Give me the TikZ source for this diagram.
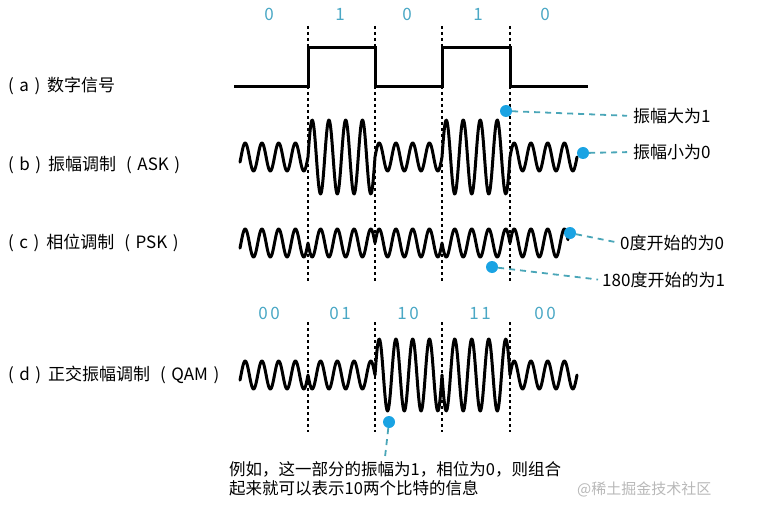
\documentclass[tikz,border=0pt]{standalone}
\usepackage{fontspec}
\setmainfont{Noto Sans CJK SC}
\definecolor{bitc}{HTML}{4BA8C5}
\definecolor{leadc}{HTML}{4AA6B8}
\definecolor{dotc}{HTML}{1AA3E3}
\newcommand\myL{(\hspace{5.5pt}}
\newcommand\myR{\hspace{5.5pt})}
\begin{document}
\begin{tikzpicture}[x=1pt,y=-1pt,
  sig/.style={line width=3pt, line join=miter},
  wave/.style={line width=3pt, line join=round, line cap=round},
  gridln/.style={line width=1.1pt, dash pattern=on 3pt off 3pt},
  lbl/.style={font=\fontsize{17}{20}\selectfont, inner sep=0pt, anchor=west},
  note/.style={font=\fontsize{16.5}{19.5}\selectfont, inner sep=0pt},
  bit/.style={font=\fontsize{17}{20}\selectfont, text=bitc, inner sep=0pt},
  dot/.style={circle, fill=dotc, minimum size=12pt, inner sep=0pt},
  lead/.style={draw=leadc, line width=1.8pt, dash pattern=on 6pt off 5pt},
]
\useasboundingbox (0,0) rectangle (767,513);

% vertical dashed grid
\foreach \x in {308,375,442,510} {
  \draw[gridln] (\x,26) -- (\x,282);
  \draw[gridln] (\x,322) -- (\x,432);
}

% top bits
\node[bit] (b1) at (269,14) {0};
\node[bit] (b2) at (340,14) {1};
\node[bit] (b3) at (407,14) {0};
\node[bit] (b4) at (478,14) {1};
\node[bit] (b5) at (545,14) {0};

% row labels
\node[lbl] (la) at (8,86) {\myL a\myR\hspace{7pt}数字信号};
\node[lbl] (lb) at (8,165) {\myL b\myR\hspace{7pt}振幅调制\hspace{10pt}\myL ASK\myR};
\node[lbl] (lc) at (8,243) {\myL c\myR\hspace{7pt}相位调制\hspace{10pt}\myL PSK\myR};
\node[lbl] (ld) at (8,375) {\myL d\myR\hspace{7pt}正交振幅调制\hspace{10pt}\myL QAM\myR};

% (a) digital signal
\draw[sig] (234,87) -- (308,87) -- (308,48) -- (375,48) -- (375,87) -- (442,87)
  -- (442,48) -- (510,48) -- (510,87) -- (588,87);

% (b) ASK
\draw[wave]
  plot[domain=240:308, samples=120, smooth] (\x, {157 - 14*sin(21.4925*(\x-308))})
  -- plot[domain=308:375, samples=120, smooth] (\x, {157 - 37*sin(21.4925*(\x-308))})
  -- plot[domain=375:442, samples=120, smooth] (\x, {157 - 14*sin(21.4925*(\x-375))})
  -- plot[domain=442:510, samples=120, smooth] (\x, {157 - 37*sin(21.1765*(\x-442))})
  -- plot[domain=510:577, samples=120, smooth] (\x, {157 - 14*sin(21.4925*(\x-510))});

% (c) PSK
\draw[wave]
  plot[domain=240:308, samples=120, smooth] (\x, {243 - 14*sin(21.4925*(\x-308))})
  -- plot[domain=308:375, samples=120, smooth] (\x, {243 + 14*sin(21.4925*(\x-308))})
  -- plot[domain=375:442, samples=120, smooth] (\x, {243 - 14*sin(21.4925*(\x-375))})
  -- plot[domain=442:510, samples=120, smooth] (\x, {243 + 14*sin(21.1765*(\x-442))})
  -- plot[domain=510:568, samples=120, smooth] (\x, {243 - 14*sin(21.4925*(\x-510))});

% (d) QAM bits
\node[bit] (q1) at (269,313) {0\hspace{2.5pt}0};
\node[bit] (q2) at (340,313) {0\hspace{2.5pt}1};
\node[bit] (q3) at (408,313) {1\hspace{2.5pt}0};
\node[bit] (q4) at (480,313) {1\hspace{2.5pt}1};
\node[bit] (q5) at (545,313) {0\hspace{2.5pt}0};

% (d) QAM
\draw[wave]
  plot[domain=240:308, samples=120, smooth] (\x, {375 - 14*sin(21.4925*(\x-308))})
  -- plot[domain=308:375, samples=120, smooth] (\x, {375 + 14*sin(21.4925*(\x-308))})
  -- plot[domain=375:442, samples=120, smooth] (\x, {375 - 36*sin(21.4925*(\x-375))})
  -- plot[domain=442:510, samples=120, smooth] (\x, {375 + 36*sin(21.1765*(\x-442))})
  -- plot[domain=510:577, samples=120, smooth] (\x, {375 - 14*sin(21.4925*(\x-510))});

% callouts
\node[dot] (d1) at (506,111) {};
\node[lbl] (t1) at (633,116) {振幅大为1};
\draw[lead, shorten >=6pt] (d1) -- (t1.west);

\node[dot] (d2) at (583,153) {};
\node[lbl] (t2) at (633,152) {振幅小为0};
\draw[lead, shorten >=6pt] (d2) -- (t2.west);

\node[dot] (d3) at (570,233) {};
\node[lbl] (t3) at (620,243) {0度开始的为0};
\draw[lead, shorten >=4pt] (d3) -- (t3.west);

\node[dot] (d4) at (492,267) {};
\node[lbl] (t4) at (602,280) {180度开始的为1};
\draw[lead, shorten >=4pt] (d4) -- (t4.west);

\node[dot] (d5) at (389,422) {};
\node[note, anchor=north west, align=left] (txt) at (229,461)
  {例如，这一部分的振幅为1，相位为0，则组合\\起来就可以表示10两个比特的信息};
\coordinate (n5) at (385,457);
\draw[lead] (d5) -- (n5);

% watermark
\node[font=\fontsize{15}{18}\selectfont, text=black!28, anchor=west, inner sep=0pt] (wm) at (577,489) {@稀土掘金技术社区};
\end{tikzpicture}
\end{document}
